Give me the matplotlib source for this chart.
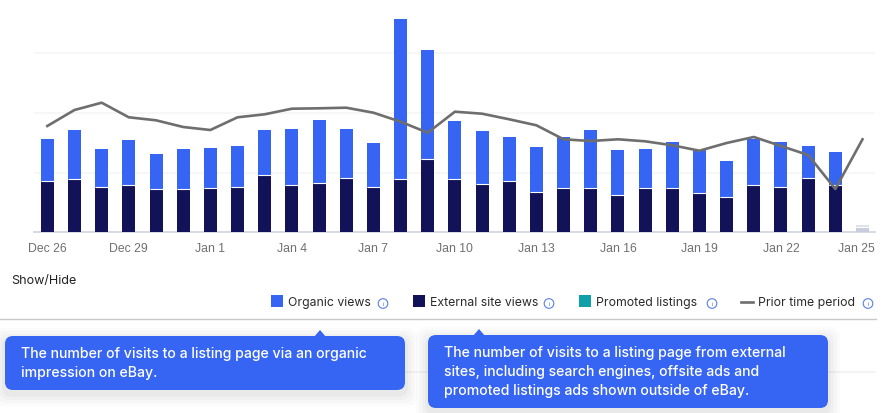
import matplotlib
matplotlib.use("Agg")
import matplotlib.pyplot as plt
from matplotlib.patches import FancyBboxPatch, Rectangle, Polygon, Circle
from matplotlib.transforms import ScaledTranslation

W, H = 886, 414
dates = ["Dec 26","Dec 27","Dec 28","Dec 29","Dec 30","Dec 31","Jan 1","Jan 2","Jan 3","Jan 4","Jan 5",
         "Jan 6","Jan 7","Jan 8","Jan 9","Jan 10","Jan 11","Jan 12","Jan 13","Jan 14","Jan 15","Jan 16",
         "Jan 17","Jan 18","Jan 19","Jan 20","Jan 21","Jan 22","Jan 23","Jan 24","Jan 25"]
external_views = [50.3,52.3,44.3,46.3,42.3,42.3,43.3,44.3,56.3,46.3,48.3,53.3,44.3,52.3,72.3,
                  52.3,47.3,50.3,39.3,43.3,43.3,36.3,43.3,43.3,38.3,34.3,46.3,44.3,53.3,46.3,4]
total_views = [93,102,83,92,78,83,84,86,102,103,112,103,89,213,182,
               111,101,95,85,95,102,82,83,90,82,71,93,90,86,80,7]
organic_views = [t - e for t, e in zip(total_views, external_views)]
prior_period = [106,122,129.3,114.7,111.7,105,102,114.7,117.7,123.3,123.7,124.3,119.3,110.3,99.3,
                120.3,118.3,112.7,106.7,92.7,91,92.7,90.7,86.7,81.3,89,95,86,77,43,92.7]
grid_levels = [59.5, 119, 179]
legend_labels = ["Organic views", "External site views", "Promoted listings", "Prior time period"]
tip_organic = "The number of visits to a listing page via an organic\nimpression on eBay."
tip_external = ("The number of visits to a listing page from external\n"
                "sites, including search engines, offsite ads and\n"
                "promoted listings ads shown outside of eBay.")

BLUE, NAVY, TEAL, GREY = "#3665f3", "#121258", "#0f9fa6", "#6e6e6e"
UI = ["Inter", "DejaVu Sans"]
px = 72 / 100

fig = plt.figure(figsize=(W / 100, H / 100), dpi=100, facecolor="white")
ax = fig.add_axes([34 / W, (H - 233) / H, (875 - 34) / W, 232 / H])
xs = list(range(len(dates)))
navy_c = [NAVY] * 30 + ["#c9ccdc"]
blue_c = [BLUE] * 30 + ["#dfe1ea"]
bw = 13 / 27.17
ax.bar(xs, external_views, bw, color=navy_c, zorder=3)
ax.bar(xs, organic_views, bw, bottom=external_views, color=blue_c, zorder=3)
ax.hlines([e + 0.6 for e in external_views], [x - bw / 2 for x in xs], [x + bw / 2 for x in xs],
          color="white", lw=0.8, zorder=4)
ax.plot(xs, prior_period, color=GREY, lw=1.9, zorder=5, solid_joinstyle="round")
for g in grid_levels:
    ax.axhline(g, color="#f6f6f6", lw=1.2, zorder=1)
ax.set_xlim(-0.49, 30.46)
ax.set_ylim(0, 232)
ax.set_yticks([])
ax.set_xticks(xs[::3], dates[::3], color="#707070", fontsize=12.2 * px, family="Liberation Sans")
ax.tick_params(axis="x", length=0, pad=7.5)
for s in ("top", "left", "right"):
    ax.spines[s].set_visible(False)
ax.spines["bottom"].set_color("#cfd2e0")
ax.spines["bottom"].set_linewidth(1.2)
last = ax.get_xticklabels()[-1]
last.set_transform(last.get_transform() + ScaledTranslation(-6 / 100, 0, fig.dpi_scale_trans))

ov = fig.add_axes([0, 0, 1, 1], zorder=10)
ov.set_xlim(0, W)
ov.set_ylim(H, 0)
ov.axis("off")
ov.patch.set_alpha(0)

ov.text(11, 281, "Show/Hide", fontsize=12.6 * px, color="#222222", family=UI, va="center")
swatches = [(271, BLUE), (413, NAVY), (579, TEAL)]
for x, c in swatches:
    ov.add_patch(Rectangle((x, 296), 12, 12, color=c, lw=0))
ov.plot([741, 753], [303, 303], color=GREY, lw=1.9)
for x, label in zip([288, 430, 596, 758], legend_labels):
    ov.text(x, 303.5, label, fontsize=12.3 * px, color="#2b2b2b", family=UI, va="center")
for x in [383, 549, 712, 868]:
    ov.add_patch(Circle((x, 304.5), 4.8, fill=False, ec="#5b7fe0", lw=0.8))
    ov.text(x, 304.7, "i", fontsize=6 * px, color="#3665f3", ha="center", va="center", family=UI)
ov.plot([0, 876], [320, 320], color="#c8c8c8", lw=1)
ov.plot([34, 875], [373, 373], color="#f2f2f2", lw=1.2, zorder=0.5)


def tooltip(x0, y0, x1, y1, tip_x, text, line_ys):
    for grow, alpha in [(12, 0.016), (9, 0.018), (6, 0.022), (3, 0.028)]:
        ov.add_patch(FancyBboxPatch((x0 - grow, y0 - grow + 4), x1 - x0 + 2 * grow, y1 - y0 + 2 * grow,
                                    boxstyle="round,pad=0,rounding_size=10", fc="black", ec="none", alpha=alpha, zorder=1))
    ov.add_patch(Polygon([(tip_x - 6, y0 + 1), (tip_x, y0 - 6), (tip_x + 6, y0 + 1)], color=BLUE, lw=0, zorder=1.5))
    ov.add_patch(FancyBboxPatch((x0, y0), x1 - x0, y1 - y0, boxstyle="round,pad=0,rounding_size=8",
                                fc=BLUE, ec="none", zorder=1.5))
    for line, y in zip(text.split("\n"), line_ys):
        ov.text(x0 + 16, y, line, color="white", fontsize=14.1 * px, family=UI, va="center", fontweight="medium")


tooltip(5, 337, 405, 391, 320, tip_organic, [354, 373])
tooltip(428, 336, 828, 409, 479, tip_external, [353, 372, 391])

fig.savefig("out.png", dpi=100)
